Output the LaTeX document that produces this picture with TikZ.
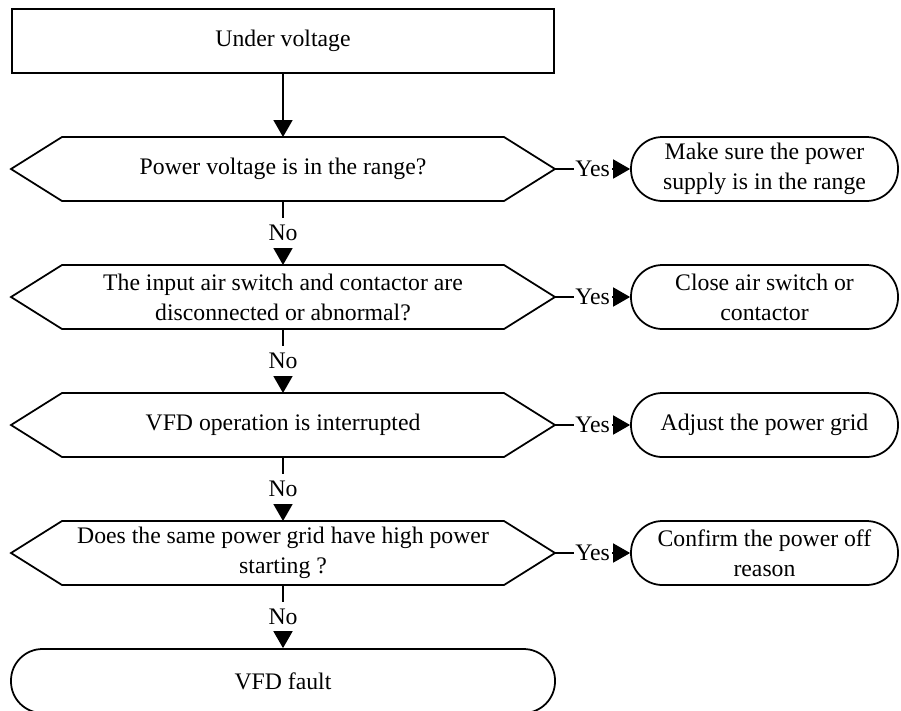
\documentclass[tikz,border=0pt]{standalone}
\usepackage{fontspec}
\setmainfont{Liberation Serif}
\usetikzlibrary{arrows.meta}

\begin{document}
\begin{tikzpicture}[>={Triangle[length=0.34cm, width=0.38cm]},
    every node/.style={font=\fontsize{13.5pt}{17pt}\selectfont},
    process/.style={rectangle, draw, line width=1pt, minimum width=10.84cm, minimum height=1.28cm, align=center},
    decision/.style={rectangle, outer sep=0pt, minimum width=10.88cm, minimum height=1.28cm, align=center},
    action/.style={rectangle, draw, line width=1pt, rounded corners=0.63cm, minimum width=5.34cm, minimum height=1.28cm, align=center},
    answer/.style={fill=white, inner xsep=1pt, inner ysep=4pt}]
    \useasboundingbox (0, 0) rectangle (18.02, -14.2);

    \node [process] (start) at (5.66, -0.82) {Under voltage};
    \node [decision] (range) at (5.66, -3.38) {Power voltage is in the range?};
    \node [decision] (switch) at (5.66, -5.94) {The input air switch and contactor are\\disconnected or abnormal?};
    \node [decision] (vfd) at (5.66, -8.50) {VFD operation is interrupted};
    \node [decision] (grid) at (5.66, -11.06) {Does the same power grid have high power\\starting ?};
    \node [action, minimum width=10.88cm] (fault) at (5.66, -13.62) {VFD fault};

    \node [action] (supply) at (15.29, -3.38) {Make sure the power\\supply is in the range};
    \node [action] (close) at (15.29, -5.94) {Close air switch or\\contactor};
    \node [action] (adjust) at (15.29, -8.50) {Adjust the power grid};
    \node [action] (confirm) at (15.29, -11.06) {Confirm the power off\\reason};

    % hexagon outlines of the questions
    \foreach \q in {range, switch, vfd, grid}
        \draw [line width=1pt] (\q.west) -- ([xshift=1.02cm]\q.north west) -- ([xshift=-1.02cm]\q.north east) -- (\q.east) -- ([xshift=-1.02cm]\q.south east) -- ([xshift=1.02cm]\q.south west) -- cycle;

    \draw [->, line width=1pt] (start) -- (range);
    \draw [->, line width=1pt] (range) -- node [answer] {No} (switch);
    \draw [->, line width=1pt] (switch) -- node [answer] {No} (vfd);
    \draw [->, line width=1pt] (vfd) -- node [answer] {No} (grid);
    \draw [->, line width=1pt] (grid) -- node [answer] {No} (fault);

    \draw [->, line width=1pt] (range) -- node [answer] {Yes} (supply);
    \draw [->, line width=1pt] (switch) -- node [answer] {Yes} (close);
    \draw [->, line width=1pt] (vfd) -- node [answer] {Yes} (adjust);
    \draw [->, line width=1pt] (grid) -- node [answer] {Yes} (confirm);
\end{tikzpicture}
\end{document}
